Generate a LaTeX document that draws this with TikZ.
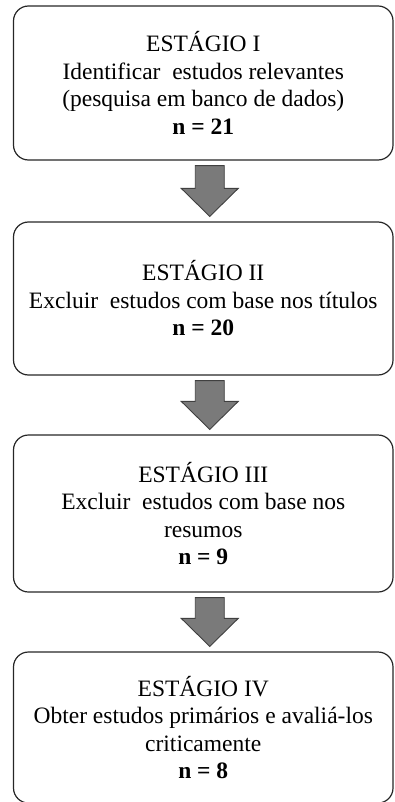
\documentclass[tikz,border=0pt]{standalone}
\usepackage{fontspec}
\setmainfont{Liberation Serif}
\usetikzlibrary{calc}

\begin{document}
\begin{tikzpicture}[x=1pt,y=1pt]
\tikzset{
  stagebox/.style={draw=black!85, line width=1.2pt, rounded corners=15pt,
    minimum width=379.5pt, align=center, inner sep=0pt,
    font=\fontsize{23.5}{27.5}\selectfont},
  bigarrow/.style={fill=black!52, draw=black!75, line width=0.9pt, line join=miter}
}
\useasboundingbox (0,0) rectangle (395,-802);
% stages
\node[stagebox, minimum height=154pt] (s1) at (203.25,-83)
  {ESTÁGIO I\\ Identificar\ \ estudos relevantes\\ (pesquisa em banco de dados)\\ \textbf{n = 21}};
\node[stagebox, minimum height=153pt] (s2) at (203.25,-298.5)
  {ESTÁGIO II\\ Excluir\ \ estudos com base nos títulos\\ \textbf{n = 20}};
\node[stagebox, minimum height=157pt] (s3) at (203.25,-513.5)
  {ESTÁGIO III\\ Excluir\ \ estudos com base nos\\ resumos\\ \textbf{n = 9}};
\node[stagebox, minimum height=151pt] (s4) at (203.25,-727.5)
  {ESTÁGIO IV\\ Obter estudos primários e avaliá-los\\ criticamente\\ \textbf{n = 8}};
% arrows between stages
\foreach \a/\b in {s1/s2, s2/s3, s3/s4}
  \draw[bigarrow] ($(\a.south)+(-8,-5)$) -- ($(\a.south)+(21,-5)$)
    -- ($(\b.north)+(21,33)$) -- ($(\b.north)+(35,33)$) -- ($(\b.north)+(6.5,5)$)
    -- ($(\b.north)+(-22,33)$) -- ($(\b.north)+(-8,33)$) -- cycle;
\end{tikzpicture}
\end{document}
